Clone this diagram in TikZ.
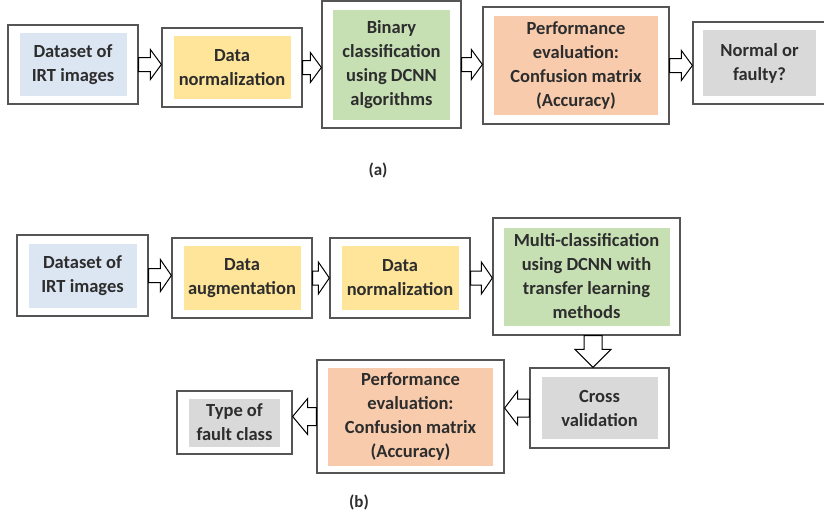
\documentclass[tikz,border=0pt]{standalone}
\usepackage{fontspec}
\setmainfont{Carlito}
\usetikzlibrary{calc}
\definecolor{framegray}{RGB}{85,85,85}
\definecolor{txtgray}{RGB}{45,45,45}
\definecolor{irtblue}{RGB}{220,230,243}
\definecolor{normyellow}{RGB}{255,229,153}
\definecolor{dcnngreen}{RGB}{198,224,180}
\definecolor{evalsalmon}{RGB}{248,203,173}
\definecolor{outgray}{RGB}{217,217,217}
\tikzset{
  framebox/.style={draw=framegray, line width=1.3pt, fill=white, inner sep=0pt},
  fillbox/.style={inner sep=0pt, align=center, text=txtgray, font=\fontsize{18.5}{24}\selectfont\bfseries},
  blockarrow/.style={draw=black, line width=1pt, fill=white, line join=miter},
  caplabel/.style={text=txtgray, font=\fontsize{17}{20}\selectfont\bfseries}
}
\begin{document}
\begin{tikzpicture}[x=1pt,y=-1pt]
\useasboundingbox (0,0) rectangle (824,522);

\node[framebox, minimum width=130pt, minimum height=79pt] (a1) at (73,64.5) {};
\node[fillbox, fill=irtblue, minimum width=107pt, minimum height=63pt] (a1t) at (a1) {Dataset of\\IRT images};
\node[framebox, minimum width=140pt, minimum height=79pt] (a2) at (232,67.5) {};
\node[fillbox, fill=normyellow, minimum width=117pt, minimum height=63pt] (a2t) at (a2) {Data\\normalization};
\node[framebox, minimum width=139pt, minimum height=127pt] (a3) at (391.5,64.5) {};
\node[fillbox, fill=dcnngreen, minimum width=117pt, minimum height=110pt] (a3t) at (a3) {Binary\\classification\\using DCNN\\algorithms};
\node[framebox, minimum width=186pt, minimum height=117pt] (a4) at (576,65.5) {};
\node[fillbox, fill=evalsalmon, minimum width=164pt, minimum height=99pt] (a4t) at (a4) {Performance\\evaluation:\\Confusion matrix\\(Accuracy)};
\node[framebox, minimum width=133pt, minimum height=82pt] (a5) at (759.5,63) {};
\node[fillbox, fill=outgray, minimum width=113pt, minimum height=66pt] (a5t) at (a5) {Normal or\\faulty?};

\draw[blockarrow] let \p1=(a1.east), \p2=(a2.west) in (\x1,\y1+7pt) -- (\x2-11pt,\y1+7pt) -- (\x2-11pt,\y1+15pt) -- (\x2,\y1) -- (\x2-11pt,\y1-15pt) -- (\x2-11pt,\y1-7pt) -- (\x1,\y1-7pt) -- cycle;
\draw[blockarrow] let \p1=(a2.east), \p2=(a3.west) in (\x1,\y1+7pt) -- (\x2-11pt,\y1+7pt) -- (\x2-11pt,\y1+15pt) -- (\x2,\y1) -- (\x2-11pt,\y1-15pt) -- (\x2-11pt,\y1-7pt) -- (\x1,\y1-7pt) -- cycle;
\draw[blockarrow] let \p1=(a3.east), \p2=(a4.west) in (\x1,\y1+7pt) -- (\x2-11pt,\y1+7pt) -- (\x2-11pt,\y1+15pt) -- (\x2,\y1) -- (\x2-11pt,\y1-15pt) -- (\x2-11pt,\y1-7pt) -- (\x1,\y1-7pt) -- cycle;
\draw[blockarrow] let \p1=(a4.east), \p2=(a5.west) in (\x1,\y1+7pt) -- (\x2-11pt,\y1+7pt) -- (\x2-11pt,\y1+15pt) -- (\x2,\y1) -- (\x2-11pt,\y1-15pt) -- (\x2-11pt,\y1-7pt) -- (\x1,\y1-7pt) -- cycle;

\node[caplabel] (capa) at (378,170) {(a)};

\node[framebox, minimum width=131pt, minimum height=81pt] (b1) at (82.5,275.5) {};
\node[fillbox, fill=irtblue, minimum width=108pt, minimum height=64pt] (b1t) at (b1) {Dataset of\\IRT images};
\node[framebox, minimum width=140pt, minimum height=80pt] (b2) at (242,278) {};
\node[fillbox, fill=normyellow, minimum width=117pt, minimum height=64pt] (b2t) at (b2) {Data\\augmentation};
\node[framebox, minimum width=140pt, minimum height=80pt] (b3) at (400,278) {};
\node[fillbox, fill=normyellow, minimum width=117pt, minimum height=64pt] (b3t) at (b3) {Data\\normalization};
\node[framebox, minimum width=187pt, minimum height=117pt] (b4) at (586.5,276.5) {};
\node[fillbox, fill=dcnngreen, minimum width=166pt, minimum height=98pt] (b4t) at (b4) {Multi-classification\\using DCNN with\\transfer learning\\methods};
\node[framebox, minimum width=139pt, minimum height=80pt] (b5) at (599.5,408) {};
\node[fillbox, fill=outgray, minimum width=116pt, minimum height=62pt] (b5t) at (b5) {Cross\\validation};
\node[framebox, minimum width=187pt, minimum height=113pt] (b6) at (410.5,416.5) {};
\node[fillbox, fill=evalsalmon, minimum width=165pt, minimum height=98pt] (b6t) at (b6) {Performance\\evaluation:\\Confusion matrix\\(Accuracy)};
\node[framebox, minimum width=115pt, minimum height=63pt] (b7) at (234.5,422.5) {};
\node[fillbox, fill=outgray, minimum width=91pt, minimum height=48pt] (b7t) at (b7) {Type of\\fault class};

\draw[blockarrow] let \p1=(b1.east), \p2=(b2.west) in (\x1,\y1+7pt) -- (\x2-11pt,\y1+7pt) -- (\x2-11pt,\y1+16pt) -- (\x2,\y1) -- (\x2-11pt,\y1-16pt) -- (\x2-11pt,\y1-7pt) -- (\x1,\y1-7pt) -- cycle;
\draw[blockarrow] let \p1=(b2.east), \p2=(b3.west) in (\x1,\y1+7pt) -- (\x2-11pt,\y1+7pt) -- (\x2-11pt,\y1+16pt) -- (\x2,\y1) -- (\x2-11pt,\y1-16pt) -- (\x2-11pt,\y1-7pt) -- (\x1,\y1-7pt) -- cycle;
\draw[blockarrow] let \p1=(b3.east), \p2=(b4.west) in (\x1,\y1+7pt) -- (\x2-11pt,\y1+7pt) -- (\x2-11pt,\y1+16pt) -- (\x2,\y1) -- (\x2-11pt,\y1-16pt) -- (\x2-11pt,\y1-7pt) -- (\x1,\y1-7pt) -- cycle;
\draw[blockarrow] let \p1=(b4.south), \p2=(b5.north), \p3=($(b4.south)!0.5!(b5.north)$) in (\x3-9pt,\y1) -- (\x3-9pt,\y2+18pt) -- (\x3-18pt,\y2+18pt) -- (\x3,\y2) -- (\x3+18pt,\y2+18pt) -- (\x3+9pt,\y2+18pt) -- (\x3+9pt,\y1) -- cycle;
\draw[blockarrow] let \p1=(b5.west), \p2=(b6.east) in (\x1,\y1+9pt) -- (\x2+13pt,\y1+9pt) -- (\x2+13pt,\y1+17pt) -- (\x2,\y1) -- (\x2+13pt,\y1-17pt) -- (\x2+13pt,\y1-9pt) -- (\x1,\y1-9pt) -- cycle;
\draw[blockarrow] let \p1=(b6.west), \p2=(b7.east) in (\x1,\y1+9pt) -- (\x2+15pt,\y1+9pt) -- (\x2+15pt,\y1+18pt) -- (\x2,\y1) -- (\x2+15pt,\y1-18pt) -- (\x2+15pt,\y1-9pt) -- (\x1,\y1-9pt) -- cycle;

\node[caplabel] (capb) at (359,502) {(b)};

\end{tikzpicture}
\end{document}
